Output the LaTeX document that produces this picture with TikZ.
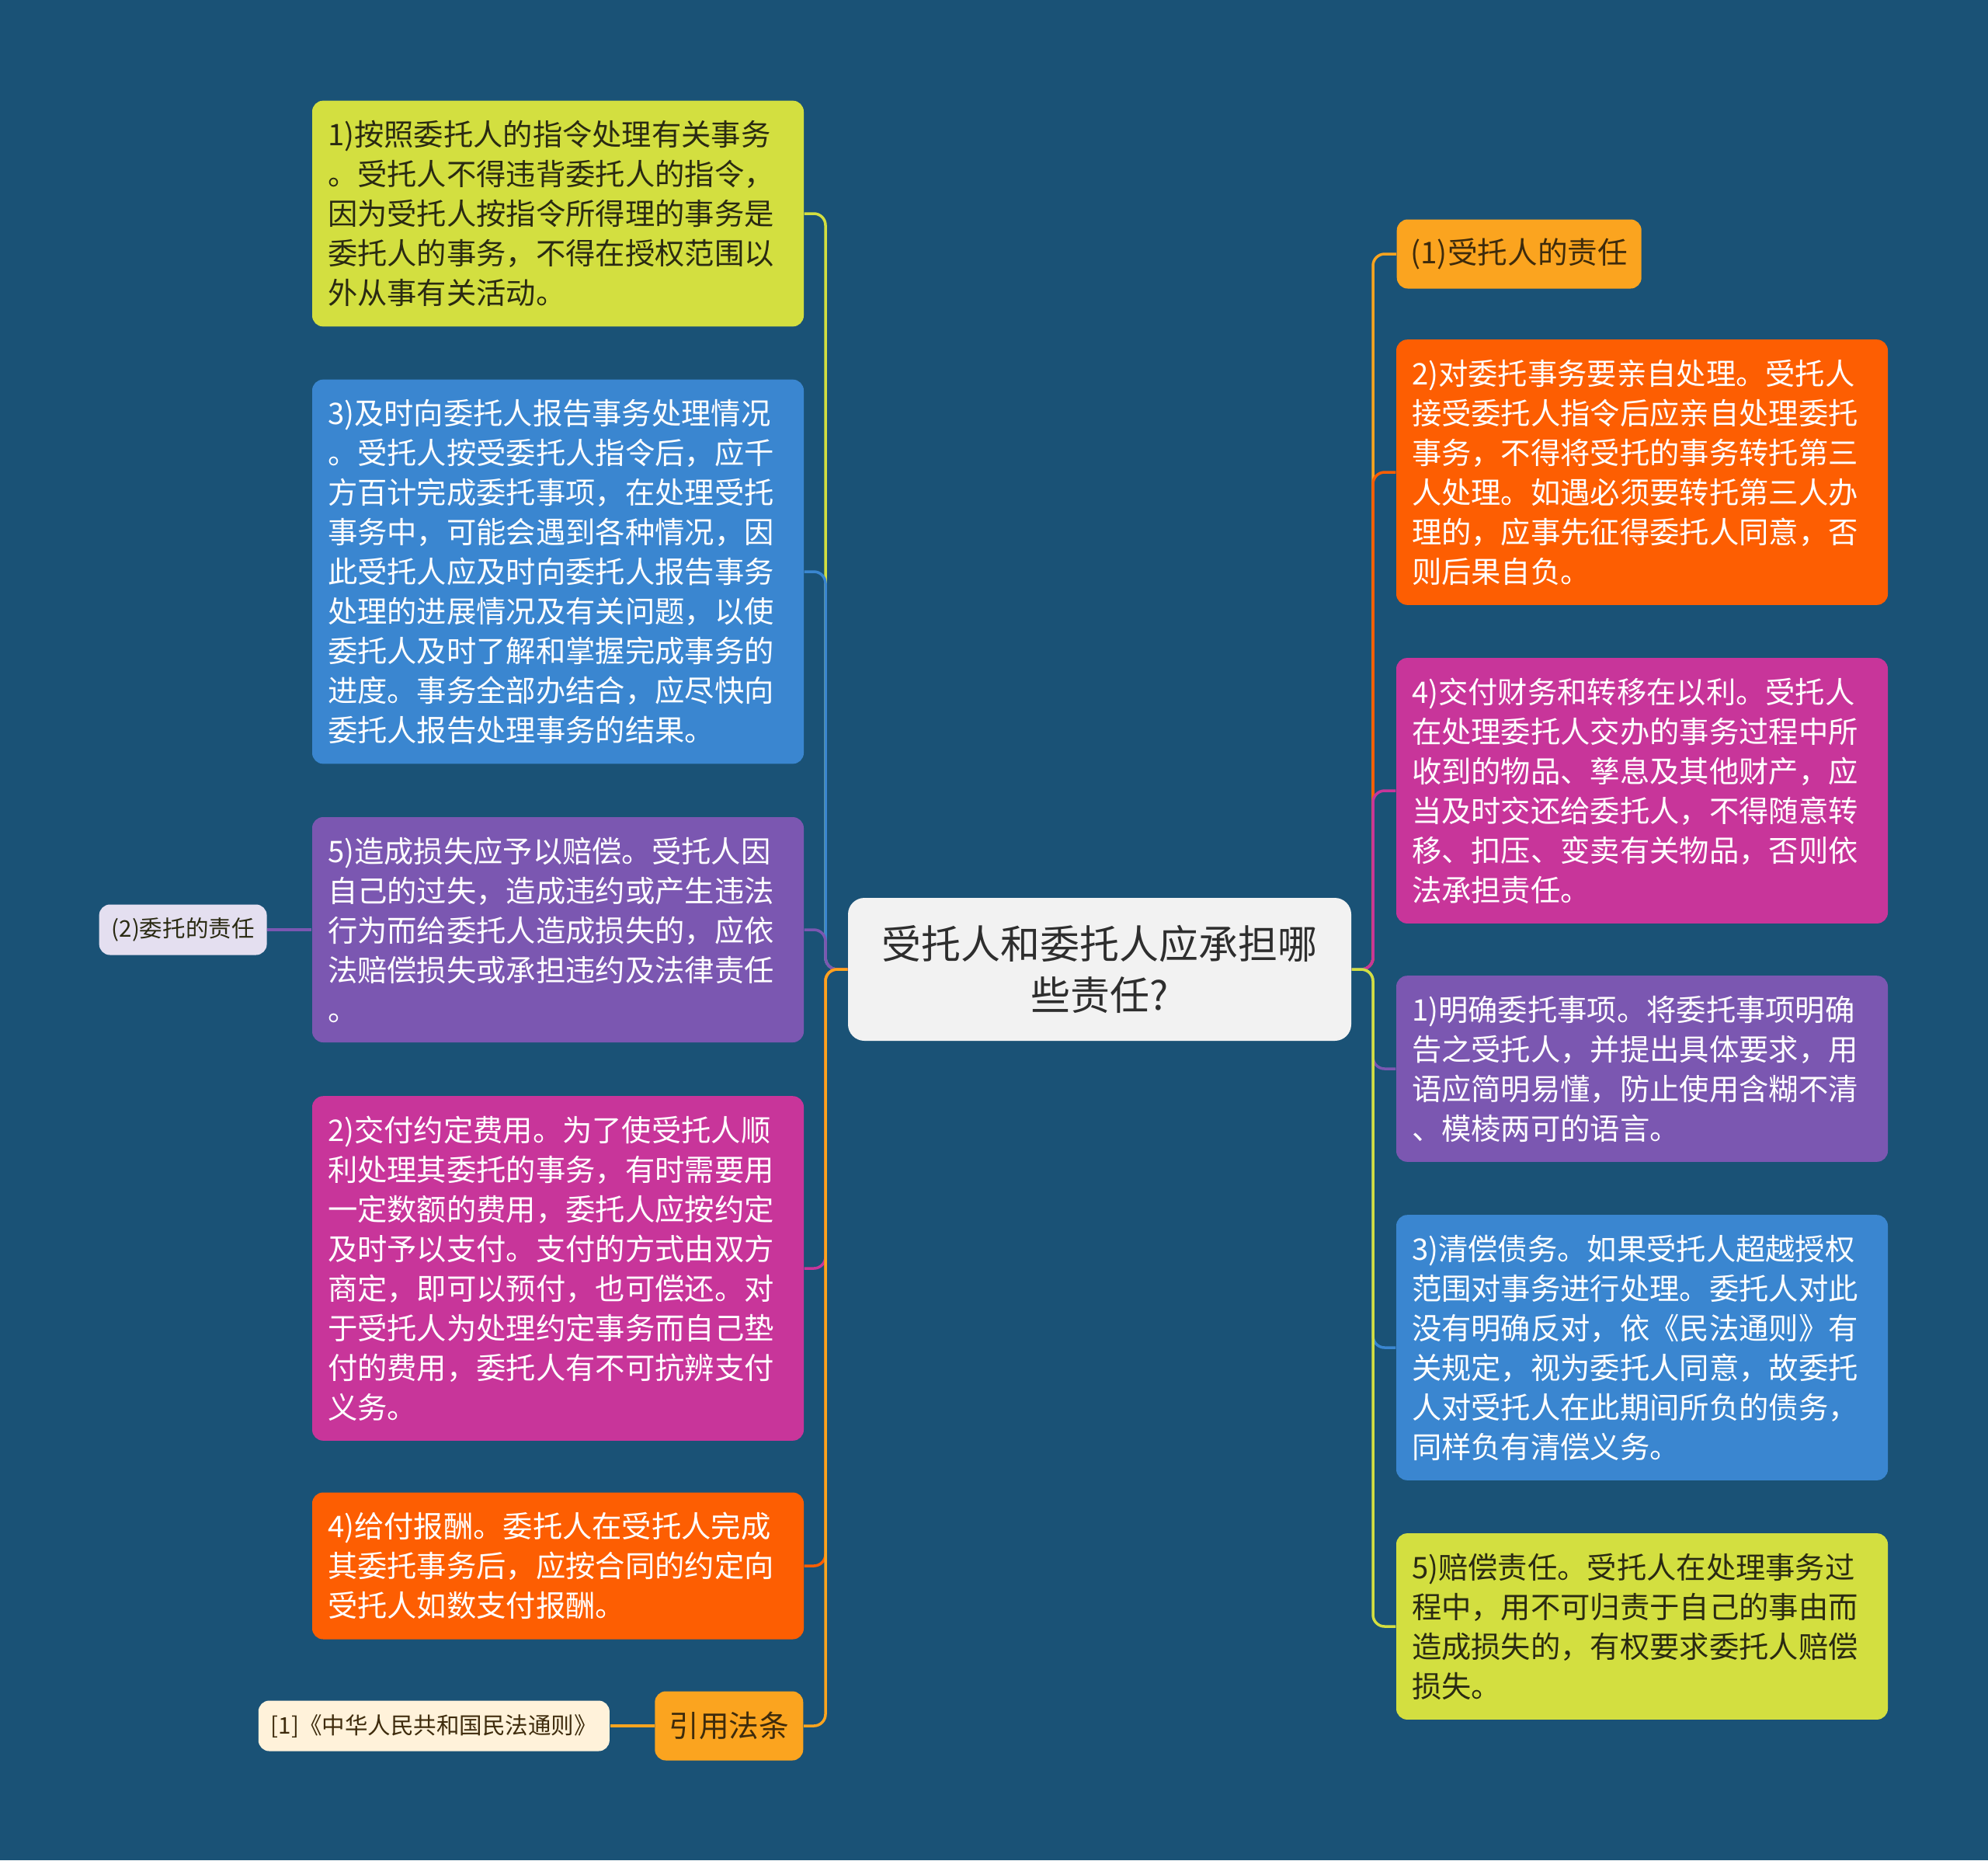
\documentclass[tikz,border=0pt]{standalone}
\usepackage{fontspec}
\setmainfont{Noto Sans CJK SC}
\usepackage{xcolor}
\usepackage{tikz}
\usetikzlibrary{positioning}
\definecolor{canvas}{HTML}{1A5276}
\definecolor{rootgray}{HTML}{F2F2F2}
\definecolor{itemlime}{HTML}{D3DF40}
\definecolor{itemsky}{HTML}{3A86D0}
\definecolor{itempurple}{HTML}{7B57B1}
\definecolor{itemmagenta}{HTML}{C8359A}
\definecolor{itemorange}{HTML}{FD5E02}
\definecolor{itemamber}{HTML}{FBA41F}
\definecolor{leafpurple}{HTML}{E4DFF0}
\definecolor{leafcream}{HTML}{FFF2DA}
\definecolor{dark}{HTML}{2E2E2E}
\definecolor{olive}{HTML}{2A2A12}
\definecolor{brown}{HTML}{3E2B0C}
\tikzset{
    topic/.style={rectangle, fill=rootgray, rounded corners=6pt, minimum width=6.48cm, minimum height=1.84cm, align=center, text=dark, font=\fontsize{14.5pt}{19pt}\selectfont},
    item/.style={rectangle, rounded corners=4pt, text width=5.93cm, inner xsep=0.2cm, inner ysep=7.3pt, align=left, text=white, font=\fontsize{10.9pt}{14.5pt}\selectfont},
    tag/.style={rectangle, rounded corners=4pt, fill=itemamber, text=brown, minimum height=0.89cm, font=\fontsize{11pt}{13pt}\selectfont},
    leaf/.style={rectangle, rounded corners=4pt, minimum height=0.65cm, inner xsep=0.16cm, font=\fontsize{8.4pt}{10pt}\selectfont},
    branch/.style={line width=1pt, rounded corners=0.15cm}
}
\begin{document}
\begin{tikzpicture}[node distance=1cm]

\fill[canvas] (0,0) rectangle (25.6,-23.95);

% Central topic
\node[topic] at (14.16,-12.48) (cen) {受托人和委托人应承担哪\\些责任?};
\coordinate (ljoin) at (10.63,-12.48);
\coordinate (rjoin) at (17.68,-12.48);

% Left side
\node[item, fill=itemlime, text=olive] at (7.185,-2.75) (l1) {1)按照委托人的指令处理有关事务\\。受托人不得违背委托人的指令，\\因为受托人按指令所得理的事务是\\委托人的事务，不得在授权范围以\\外从事有关活动。};
\node[item, fill=itemsky] at (7.185,-7.36) (l3) {3)及时向委托人报告事务处理情况\\。受托人按受委托人指令后，应千\\方百计完成委托事项，在处理受托\\事务中，可能会遇到各种情况，因\\此受托人应及时向委托人报告事务\\处理的进展情况及有关问题，以使\\委托人及时了解和掌握完成事务的\\进度。事务全部办结合，应尽快向\\委托人报告处理事务的结果。};
\node[item, fill=itempurple] at (7.185,-11.97) (l5) {5)造成损失应予以赔偿。受托人因\\自己的过失，造成违约或产生违法\\行为而给委托人造成损失的，应依\\法赔偿损失或承担违约及法律责任\\。};
\node[item, fill=itemmagenta] at (7.185,-16.33) (l2) {2)交付约定费用。为了使受托人顺\\利处理其委托的事务，有时需要用\\一定数额的费用，委托人应按约定\\及时予以支付。支付的方式由双方\\商定，即可以预付，也可偿还。对\\于受托人为处理约定事务而自己垫\\付的费用，委托人有不可抗辨支付\\义务。};
\node[item, fill=itemorange] at (7.185,-20.16) (l4) {4)给付报酬。委托人在受托人完成\\其委托事务后，应按合同的约定向\\受托人如数支付报酬。};
\node[tag, anchor=east, minimum width=1.91cm] at (10.35,-22.22) (ref) {引用法条};

% Leaves on the left
\node[leaf, fill=leafpurple, text=olive, left=0.57cm of l5] (duty) {(2)委托的责任};
\node[leaf, fill=leafcream, text=brown, left=0.57cm of ref] (law) {[1]《中华人民共和国民法通则》};

% Right side
\node[tag, anchor=west, minimum width=3.15cm] at (17.98,-3.27) (r0) {(1)受托人的责任};
\node[item, fill=itemorange] at (21.145,-6.08) (r2) {2)对委托事务要亲自处理。受托人\\接受委托人指令后应亲自处理委托\\事务，不得将受托的事务转托第三\\人处理。如遇必须要转托第三人办\\理的，应事先征得委托人同意，否\\则后果自负。};
\node[item, fill=itemmagenta] at (21.145,-10.18) (r4) {4)交付财务和转移在以利。受托人\\在处理委托人交办的事务过程中所\\收到的物品、孳息及其他财产，应\\当及时交还给委托人，不得随意转\\移、扣压、变卖有关物品，否则依\\法承担责任。};
\node[item, fill=itempurple] at (21.145,-13.76) (r1) {1)明确委托事项。将委托事项明确\\告之受托人，并提出具体要求，用\\语应简明易懂，防止使用含糊不清\\、模棱两可的语言。};
\node[item, fill=itemsky] at (21.145,-17.35) (r3) {3)清偿债务。如果受托人超越授权\\范围对事务进行处理。委托人对此\\没有明确反对，依《民法通则》有\\关规定，视为委托人同意，故委托\\人对受托人在此期间所负的债务，\\同样负有清偿义务。};
\node[item, fill=itemlime, text=olive] at (21.145,-20.94) (r5) {5)赔偿责任。受托人在处理事务过\\程中，用不可归责于自己的事由而\\造成损失的，有权要求委托人赔偿\\损失。};

% Branches, left
\draw[branch, itemlime] (cen.west) -- (ljoin) |- (l1.east);
\draw[branch, itemsky] (cen.west) -- (ljoin) |- (l3.east);
\draw[branch, itempurple] (cen.west) -- (ljoin) |- (l5.east);
\draw[branch, itemmagenta] (cen.west) -- (ljoin) |- (l2.east);
\draw[branch, itemorange] (cen.west) -- (ljoin) |- (l4.east);
\draw[branch, itemamber] (cen.west) -- (ljoin) |- (ref.east);
\draw[branch, itempurple] (l5.west) -- (duty.east);
\draw[branch, itemamber] (ref.west) -- (law.east);

% Branches, right
\draw[branch, itemamber] (cen.east) -- (rjoin) |- (r0.west);
\draw[branch, itemorange] (cen.east) -- (rjoin) |- (r2.west);
\draw[branch, itemmagenta] (cen.east) -- (rjoin) |- (r4.west);
\draw[branch, itempurple] (cen.east) -- (rjoin) |- (r1.west);
\draw[branch, itemsky] (cen.east) -- (rjoin) |- (r3.west);
\draw[branch, itemlime] (cen.east) -- (rjoin) |- (r5.west);

\end{tikzpicture}
\end{document}
